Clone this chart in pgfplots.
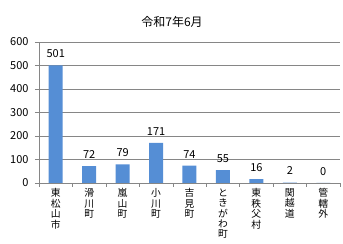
\documentclass[border=0pt]{standalone}
\usepackage{fontspec}
\setmainfont{Noto Sans CJK JP}
\usepackage{pgfplots}
\pgfplotsset{compat=1.18}
\definecolor{barblue}{RGB}{85,142,213}
\definecolor{axgray}{RGB}{134,134,134}
\begin{document}
\begin{tikzpicture}
\begin{axis}[
  scale only axis, width=301pt, height=141pt,
  xmin=-0.5, xmax=8.5, ymin=0, ymax=600,
  axis x line*=bottom, axis y line*=left,
  axis line style={axgray},
  every tick/.style={axgray},
  tick align=outside,
  major tick length=4pt,
  ytick={0,100,...,600},
  ymajorgrids, grid style={axgray},
  xtick={-0.5,0.5,...,8.5},
  xticklabels={},
  extra x ticks={0,1,2,3,4,5,6,7,8},
  extra x tick labels={{東\\松\\山\\市},{滑\\川\\町},{嵐\\山\\町},{小\\川\\町},{吉\\見\\町},{と\\き\\が\\わ\\町},{東\\秩\\父\\村},{関\\越\\道},{管\\轄\\外}},
  extra x tick style={major tick length=0pt, grid=none},
  xticklabel style={align=center, anchor=north, font=\fontsize{9.8}{10.4}\selectfont, yshift=-4.5pt, inner sep=1pt},
  yticklabel style={font=\fontsize{11}{13}\selectfont, xshift=-3pt},
  /pgf/number format/assume math mode=true,
  title={令和7年6月},
  title style={at={(axis description cs:0.442,1.10)}, anchor=center, font=\fontsize{12}{14}\selectfont},
  ybar, bar width=14pt,
  nodes near coords,
  every node near coord/.append style={font=\fontsize{11}{13}\selectfont, yshift=4pt, text=black},
]
\addplot[fill=barblue, draw=none] coordinates {(0,501) (1,72) (2,79) (3,171) (4,74) (5,55) (6,16) (7,2) (8,0)};
\end{axis}
\pgfresetboundingbox
\path ([xshift=-39pt,yshift=-61pt]current axis.south west) rectangle ([xshift=3pt,yshift=42pt]current axis.north east);
\end{tikzpicture}
\end{document}
